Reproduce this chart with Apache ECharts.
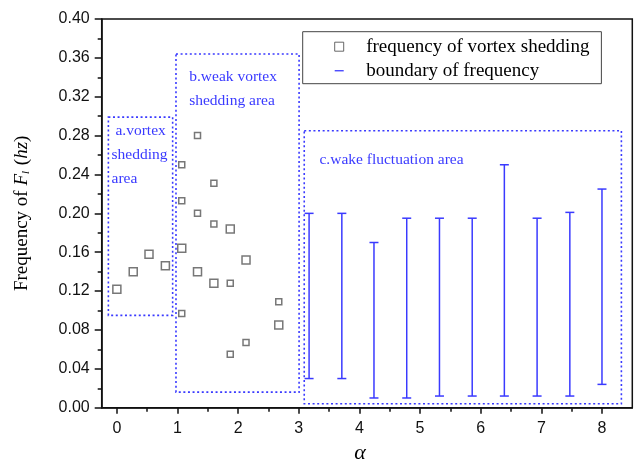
<!DOCTYPE html>
<html>
<head>
<meta charset="utf-8">
<script src="https://cdn.jsdelivr.net/npm/echarts@6/dist/echarts.min.js"></script>
<style>
  html, body { margin: 0; padding: 0; background: #fff; }
  #chart { width: 635px; height: 461px; }
</style>
</head>
<body>
<div id="chart"></div>
<script>
// Vortex shedding frequency measurements (alpha, frequency in Hz)
const shedAlpha = [0, 0.27, 0.53, 0.8, 1.07, 1.07, 1.07, 1.07, 1.33, 1.33, 1.33,
                   1.6, 1.6, 1.6, 1.87, 1.87, 1.87, 2.13, 2.13, 2.67, 2.67];
const shedFreq  = [0.122, 0.140, 0.158, 0.146, 0.164, 0.213, 0.250, 0.097, 0.280, 0.200, 0.140,
                   0.231, 0.189, 0.128, 0.184, 0.128, 0.055, 0.152, 0.067, 0.109, 0.085];
// Marker class per point: 1 = large square, 0 = small square
const shedMarkerClass = [1, 1, 1, 1, 1, 0, 0, 0, 0, 0, 1,
                         0, 0, 1, 1, 0, 0, 1, 0, 0, 1];

// Frequency boundaries in the wake fluctuation regime
const boundAlpha = [3.17, 3.71, 4.24, 4.78, 5.32, 5.86, 6.39, 6.93, 7.47, 8.0];
const boundLow   = [0.030, 0.030, 0.010, 0.010, 0.012, 0.012, 0.012, 0.012, 0.012, 0.024];
const boundHigh  = [0.200, 0.200, 0.170, 0.195, 0.195, 0.195, 0.250, 0.195, 0.201, 0.225];

// Flow regime regions: [alphaFrom, freqTop], [alphaTo, freqBottom]
const regionA = [[-0.14, 0.299], [0.92, 0.095]];
const regionB = [[0.975, 0.364], [3.005, 0.016]];
const regionC = [[3.09, 0.285], [8.32, 0.004]];
const regionLabels = [' a.vortex\nshedding\narea', 'b.weak vortex\nshedding area', 'c.wake fluctuation area'];

// Axis ticks
const xMajorTicks = [0, 1, 2, 3, 4, 5, 6, 7, 8];
const xMinorTicks = [0.5, 1.5, 2.5, 3.5, 4.5, 5.5, 6.5, 7.5];

const BLUE = '#3a3aff';
const SERIF = '"Liberation Serif", "Times New Roman", serif';
const SANS = '"Liberation Sans", Arial, sans-serif';

// Legend icons: drawn inside a 44x9 frame so the glyph keeps its own size
const ICON_SQUARE = 'path://M0,0L0,0M17.5,0H26.5V9H17.5ZM44,9L44,9';
const ICON_DASH = 'path://M0,0L0,0M17.5,3.9H26.5V5.2H17.5ZM44,9L44,9';

const scatterData = shedAlpha.map((a, i) => ({
  value: [a, shedFreq[i]],
  symbolSize: shedMarkerClass[i] ? 8 : 6
}));
const boundData = boundAlpha.map((a, i) => [a, boundLow[i], boundHigh[i]]);

function regionItem(r, text, pad) {
  return [
    { coord: r[0], label: { formatter: text, padding: pad } },
    { coord: r[1] }
  ];
}

const chart = echarts.init(document.getElementById('chart'), null, { renderer: 'canvas' });

chart.setOption({
  animation: false,
  backgroundColor: '#fff',
  grid: {
    left: 101.7, right: 2.7, top: 19, bottom: 53.3,
    outerBoundsMode: 'none', containLabel: false,
    show: true, borderColor: '#111', borderWidth: 1.5, backgroundColor: 'transparent'
  },
  legend: {
    left: 302.7, top: 31.7,
    orient: 'vertical',
    itemWidth: 44, itemHeight: 9, itemGap: 4,
    symbolKeepAspect: true,
    padding: [5, 12, 3, 14],
    borderColor: '#444', borderWidth: 1,
    textStyle: { fontFamily: SERIF, fontSize: 19, color: '#000', lineHeight: 20 },
    data: [
      { name: 'frequency of vortex shedding', icon: ICON_SQUARE,
        itemStyle: { color: 'rgba(0,0,0,0)', borderColor: '#444', borderWidth: 1 } },
      { name: 'boundary of frequency', icon: ICON_DASH,
        itemStyle: { color: BLUE, borderWidth: 0 } }
    ]
  },
  xAxis: [{
    type: 'value', min: -0.25, max: 8.5,
    name: 'α', nameLocation: 'middle', nameGap: 35,
    nameTextStyle: { fontFamily: SERIF, fontSize: 22, fontStyle: 'italic', color: '#000', padding: [0, 14, 0, 0] },
    axisLine: { onZero: false, lineStyle: { color: '#111', width: 1.5 } },
    axisTick: { customValues: xMajorTicks, length: 6, lineStyle: { color: '#111', width: 1.5 } },
    axisLabel: { customValues: xMajorTicks, margin: 13, fontFamily: SANS, fontSize: 16, color: '#111' },
    splitLine: { show: false }
  }, {
    type: 'value', min: -0.25, max: 8.5, position: 'bottom',
    axisLine: { show: false },
    axisTick: { customValues: xMinorTicks, length: 4, lineStyle: { color: '#111', width: 1.5 } },
    axisLabel: { show: false },
    splitLine: { show: false }
  }],
  yAxis: {
    type: 'value', min: 0, max: 0.4, interval: 0.04,
    name: 'Frequency of {i|F}{s|l} ({i|hz})',
    nameLocation: 'middle', nameGap: 70, nameRotate: 90,
    nameTextStyle: {
      fontFamily: SERIF, fontSize: 19, color: '#000',
      rich: {
        i: { fontFamily: SERIF, fontSize: 19, fontStyle: 'italic', color: '#000' },
        s: { fontFamily: SERIF, fontSize: 11, fontStyle: 'italic', color: '#000', verticalAlign: 'bottom', padding: [6, 1, 0, 0] }
      }
    },
    axisLine: { onZero: false, lineStyle: { color: '#111', width: 1.5 } },
    axisTick: { length: 7, lineStyle: { color: '#111', width: 1.5 } },
    minorTick: { show: true, splitNumber: 2, length: 4, lineStyle: { color: '#111', width: 1.5 } },
    axisLabel: { margin: 12, fontFamily: SANS, fontSize: 16, color: '#111', formatter: v => v.toFixed(2) },
    splitLine: { show: false }
  },
  series: [
    {
      name: 'frequency of vortex shedding',
      type: 'scatter',
      symbol: 'rect',
      itemStyle: { color: 'rgba(0,0,0,0)', borderColor: '#555', borderWidth: 1.5 },
      data: scatterData,
      z: 3,
      markArea: {
        silent: true,
        itemStyle: { color: 'rgba(0,0,0,0)', borderColor: BLUE, borderWidth: 1.6, borderType: [2, 2.6] },
        label: {
          position: 'insideTopLeft', distance: 0,
          fontFamily: SERIF, fontSize: 15.5, color: BLUE, lineHeight: 24, align: 'left'
        },
        data: [
          regionItem(regionA, regionLabels[0], [3, 0, 0, 4]),
          regionItem(regionB, regionLabels[1], [12, 0, 0, 14]),
          regionItem(regionC, regionLabels[2], [18, 0, 0, 16])
        ]
      }
    },
    {
      name: 'boundary of frequency',
      type: 'custom',
      data: boundData,
      encode: { x: 0, y: [1, 2] },
      itemStyle: { color: BLUE },
      renderItem: function (params, api) {
        const x = api.value(0);
        const top = api.coord([x, api.value(2)]);
        const bot = api.coord([x, api.value(1)]);
        const half = 4.5;
        const st = { stroke: BLUE, lineWidth: 1.5, fill: null };
        return {
          type: 'group',
          children: [
            { type: 'line', shape: { x1: top[0], y1: top[1], x2: bot[0], y2: bot[1] }, style: st },
            { type: 'line', shape: { x1: top[0] - half, y1: top[1], x2: top[0] + half, y2: top[1] }, style: st },
            { type: 'line', shape: { x1: bot[0] - half, y1: bot[1], x2: bot[0] + half, y2: bot[1] }, style: st }
          ]
        };
      }
    }
  ]
});
</script>
</body>
</html>
